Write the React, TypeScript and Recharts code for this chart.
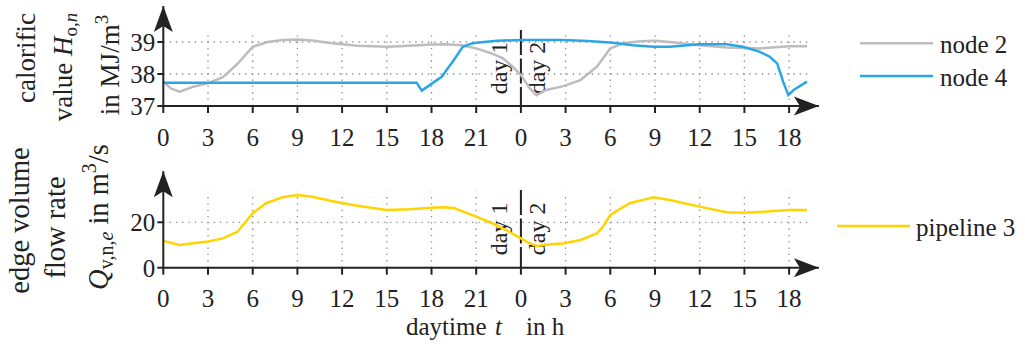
import React from 'react';
import { Legend, Line, LineChart, ReferenceLine, XAxis, YAxis } from 'recharts';

// hours since start of day 1 (24 = 0 h of day 2)
const hoursNode2 = [0, 0.5, 1.1, 2, 3, 4, 4.9, 6, 7, 8, 9, 10, 11.2, 13, 15, 16.5, 18, 19, 20, 21, 22, 22.8, 23.4, 24, 24.6, 25.05, 25.7, 26.85, 28, 29.1, 30, 30.9, 32, 33, 34, 36, 37.8, 40, 42, 43.2];
const calorificNode2 = [37.76, 37.55, 37.45, 37.6, 37.71, 37.9, 38.28, 38.85, 39.0, 39.06, 39.08, 39.05, 38.97, 38.88, 38.85, 38.88, 38.92, 38.93, 38.9, 38.8, 38.65, 38.49, 38.25, 37.97, 37.55, 37.34, 37.5, 37.62, 37.81, 38.23, 38.8, 38.96, 39.02, 39.04, 39.0, 38.9, 38.83, 38.8, 38.87, 38.87];

const hoursNode4 = [0, 17, 17.35, 17.9, 18.7, 19.0, 19.5, 20.1, 20.6, 21, 22.4, 24, 26.8, 28.5, 30.2, 31.5, 32.9, 34, 36, 37.8, 38.9, 40, 40.7, 41.2, 41.6, 41.95, 42.3, 43.2];
const calorificNode4 = [37.73, 37.73, 37.48, 37.66, 37.92, 38.12, 38.44, 38.85, 38.94, 38.98, 39.04, 39.06, 39.06, 39.03, 38.98, 38.9, 38.85, 38.85, 38.93, 38.93, 38.85, 38.7, 38.54, 38.33, 37.76, 37.34, 37.5, 37.76];

const hoursPipe3 = [0, 1.1, 2, 3, 4, 5, 5.5, 6, 6.9, 8, 9, 10, 11.2, 13, 15, 16.5, 18, 18.8, 19.5, 20, 21, 22, 23, 24, 24.5, 25.05, 26, 26.8, 28, 29.1, 29.5, 30, 31.3, 32.9, 34, 36, 37.8, 38.9, 40.5, 42, 43.2];
const flowPipe3 = [11.8, 10.0, 10.8, 11.5, 12.9, 15.9, 20, 24, 28.4, 31.0, 32, 31.2, 29.5, 27.3, 25.4, 25.7, 26.4, 26.6, 26.3, 25, 22.5, 19.8, 16.6, 12.9, 11, 9.6, 10.3, 10.7, 12.2, 15.1, 18, 23.2, 28.4, 31, 29.8, 26.9, 24.4, 24.2, 24.7, 25.4, 25.4];

const hourTicks = [0, 3, 6, 9, 12, 15, 18, 21, 24, 27, 30, 33, 36, 39, 42];
const gridHours = [3, 6, 9, 12, 15, 18, 21, 27, 30, 33, 36, 39, 42];
const calorificTicks = [37, 38, 39];
const flowTicks = [0, 20];

const FONT = "'Liberation Serif', 'DejaVu Serif', serif";
const INK = '#222';
const GRID = '#8a8a8a';
const GRAY = '#bdbdbd';
const BLUE = '#2aa6e6';
const YELLOW = '#ffd400';

const rows = (hours: number[], values: number[]) => hours.map((h, i) => ({ h, v: values[i] }));

const LEFT = 163.3;
const RIGHT = 818.9;
const GRID_END = 43.25;

const xArrow = (x: number, y: number) => (
  <path d={`M${x},${y} L${x - 25},${y - 9.5} L${x - 19},${y} L${x - 25},${y + 9.5} Z`} fill={INK} />
);
const yArrow = (x: number, y: number) => (
  <path d={`M${x},${y} L${x - 9.5},${y + 26} L${x},${y + 20} L${x + 9.5},${y + 26} Z`} fill={INK} />
);

const vb = (p: any) => p?.viewBox ?? {};

const rotated = (x: number, y: number, children: React.ReactNode, size = 27) => (
  <text
    x={x}
    y={y}
    transform={`rotate(-90 ${x} ${y})`}
    textAnchor="middle"
    style={{ fontFamily: FONT, fontSize: size }}
    fill={INK}
  >
    {children}
  </text>
);

const dayLabels = (p: any) => {
  const { x = 520.7, y = 0, height = 0 } = vb(p);
  const mid = y + height / 2;
  return (
    <g>
      {rotated(x - 13.5, mid, 'day 1', 24)}
      {rotated(x + 24.5, mid, 'day 2', 24)}
    </g>
  );
};

const legendContent = (lineY: number[], textX: number) => (props: any) => (
  <svg width={190} height={100} style={{ overflow: 'visible' }}>
    {(props.payload || []).map((e: any, i: number) => (
      <g key={e.value}>
        <line x1={5} x2={78} y1={lineY[i]} y2={lineY[i]} stroke={e.color} strokeWidth={2.5} />
        <text x={textX} y={lineY[i] + 10} style={{ fontFamily: FONT, fontSize: 25 }} fill={INK}>
          {e.value}
        </text>
      </g>
    ))}
  </svg>
);

const gridLines = (yFrom: number, yTop: number, yLines: number[]) => [
  ...gridHours.map((h) => (
    <ReferenceLine
      key={`v${h}`}
      segment={[{ x: h, y: yFrom }, { x: h, y: yTop }]}
      stroke={GRID}
      strokeWidth={1.3}
      strokeDasharray="1.3 5"
    />
  )),
  ...yLines.map((v) => (
    <ReferenceLine
      key={`h${v}`}
      segment={[{ x: 0, y: v }, { x: GRID_END, y: v }]}
      stroke={GRID}
      strokeWidth={1.3}
      strokeDasharray="1.3 5"
    />
  )),
];

const tickStyle = { fill: INK, fontSize: 25, fontFamily: FONT, style: { fontFamily: FONT } };

const xAxisProps = {
  dataKey: 'h',
  type: 'number' as const,
  domain: [0, 44],
  ticks: hourTicks,
  interval: 0 as const,
  tickFormatter: (v: number) => `${v % 24}`,
  axisLine: { stroke: INK, strokeWidth: 2 },
  tickLine: { stroke: INK, strokeWidth: 2 },
  tickSize: 7,
  tickMargin: 15,
  tick: tickStyle,
};

const yAxisCommon = {
  axisLine: { stroke: INK, strokeWidth: 2 },
  tickLine: { stroke: INK, strokeWidth: 2 },
  tickSize: 6,
  tickMargin: 2,
  tick: tickStyle,
  interval: 0 as const,
  width: 60,
};

const CalorificChart = () => (
  <LineChart width={1025} height={150} margin={{ top: 6, right: 1025 - RIGHT, bottom: 0, left: LEFT - 60 }}>
    <XAxis
      {...xAxisProps}
      height={44}
      label={(p: any) => {
        const { x = LEFT, y = 106, width = RIGHT - LEFT } = vb(p);
        return xArrow(x + width, y);
      }}
    />
    <YAxis
      {...yAxisCommon}
      domain={[37, 40.125]}
      ticks={calorificTicks}
      label={(p: any) => {
        const { x = LEFT - 60, y = 6, width = 60 } = vb(p);
        return (
          <g>
            {yArrow(x + width, y)}
            {rotated(35, 58, 'calorific')}
            {rotated(
              72,
              67,
              <>
                value <tspan fontStyle="italic">H</tspan>
                <tspan fontSize={19} dy={5}>o,</tspan>
                <tspan fontSize={19} fontStyle="italic">n</tspan>
              </>,
            )}
            {rotated(
              119,
              65,
              <>
                in MJ/m<tspan fontSize={19} dy={-11}>3</tspan>
              </>,
            )}
          </g>
        );
      }}
    />
    {gridLines(37, 39.32, [38, 39])}
    <ReferenceLine
      segment={[{ x: 24, y: 39.375 }, { x: 24, y: 37 }]}
      stroke={INK}
      strokeWidth={2}
      strokeDasharray="25 3.5"
      label={dayLabels}
    />
    <Line data={rows(hoursNode2, calorificNode2)} dataKey="v" name="node 2" stroke={GRAY} strokeWidth={2.5} dot={false} activeDot={false} isAnimationActive={false} />
    <Line data={rows(hoursNode4, calorificNode4)} dataKey="v" name="node 4" stroke={BLUE} strokeWidth={2.5} dot={false} activeDot={false} isAnimationActive={false} />
    <Legend
      layout="horizontal"
      verticalAlign="middle"
      align="center"
      wrapperStyle={{ left: 855, top: 20, width: 190 }}
      content={legendContent([23.3, 56], 85)}
    />
  </LineChart>
);

// the lower chart starts 40px above its plot band so the tall rotated title is not clipped
const FlowChart = () => (
  <LineChart width={1025} height={234} margin={{ top: 61.2, right: 1025 - RIGHT, bottom: 0, left: LEFT - 60 }}>
    <XAxis
      {...xAxisProps}
      height={76.3}
      label={(p: any) => {
        const { x = LEFT, y = 157.7, width = RIGHT - LEFT } = vb(p);
        return (
          <g>
            {xArrow(x + width, y)}
            <text y={y + 67.5} style={{ fontFamily: FONT, fontSize: 25 }} fill={INK}>
              <tspan x={406}>daytime</tspan>
              <tspan x={495} fontStyle="italic">t</tspan>
              <tspan x={526}>in h</tspan>
            </text>
          </g>
        );
      }}
    />
    <YAxis
      {...yAxisCommon}
      domain={[0, 42.5]}
      ticks={flowTicks}
      label={(p: any) => {
        const { x = LEFT - 60, y = 61.2, width = 60 } = vb(p);
        return (
          <g>
            {yArrow(x + width, y)}
            {rotated(28.5, 110.5, 'edge volume', 28.5)}
            {rotated(65, 117.5, 'flow rate', 28.5)}
            {rotated(
              108,
              107,
              <>
                <tspan fontStyle="italic">Q</tspan>
                <tspan fontSize={20} dy={5}>v,n,</tspan>
                <tspan fontSize={20} fontStyle="italic">e</tspan>
                <tspan dy={-5}> in m</tspan>
                <tspan fontSize={20} dy={-12}>3</tspan>
                <tspan dy={12}>/s</tspan>
              </>,
              28.5,
            )}
          </g>
        );
      }}
    />
    {gridLines(0, 33.5, [20])}
    <ReferenceLine
      segment={[{ x: 24, y: 34.2 }, { x: 24, y: 0 }]}
      stroke={INK}
      strokeWidth={2}
      strokeDasharray="25 3.5"
      label={dayLabels}
    />
    <Line data={rows(hoursPipe3, flowPipe3)} dataKey="v" name="pipeline 3" stroke={YELLOW} strokeWidth={2.5} dot={false} activeDot={false} isAnimationActive={false} />
    <Legend
      layout="horizontal"
      verticalAlign="middle"
      align="center"
      wrapperStyle={{ left: 832, top: 90, width: 190 }}
      content={legendContent([26, 0], 84)}
    />
  </LineChart>
);

export default function App() {
  return (
    <div style={{ position: 'absolute', left: 0, top: 0, width: 1025, height: 344, background: '#fff', fontFamily: FONT }}>
      <div style={{ position: 'absolute', left: 0, top: 0 }}>
        <CalorificChart />
      </div>
      <div style={{ position: 'absolute', left: 0, top: 110 }}>
        <FlowChart />
      </div>
    </div>
  );
}
